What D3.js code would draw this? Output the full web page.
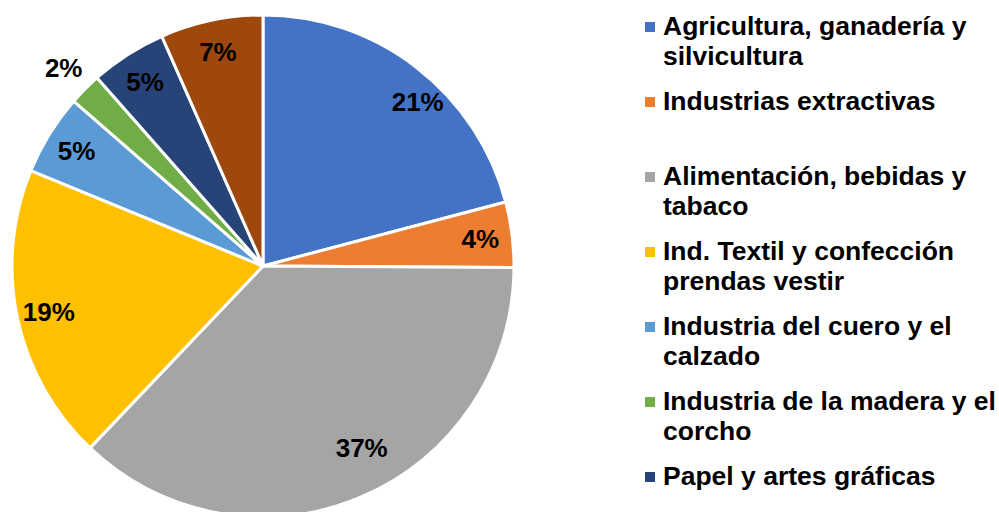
<!DOCTYPE html>
<html>
<head>
<meta charset="utf-8">
<script src="https://cdn.jsdelivr.net/npm/d3@7"></script>
<style>
  body { margin: 0; background: #fff; }
  svg text { font-family: "Liberation Sans", Arial, sans-serif; font-weight: bold; }
</style>
</head>
<body>
<div class="holderPie"></div>
<script>
// sectors, clockwise from 12 o'clock
var sectors = [
  'Agricultura, ganadería y silvicultura',
  'Industrias extractivas',
  'Alimentación, bebidas y tabaco',
  'Ind. Textil y confección prendas vestir',
  'Industria del cuero y el calzado',
  'Industria de la madera y el corcho',
  'Papel y artes gráficas',
  'Otras industrias'
]
var shares = [20.9, 4.2, 37.0, 19.1, 5.2, 2.1, 4.9, 6.6]
var labels = ['21%', '4%', '37%', '19%', '5%', '2%', '5%', '7%']
// legend text split into lines as in the original
var legendLines = [
  ['Agricultura, ganadería y', 'silvicultura'],
  ['Industrias extractivas'],
  ['Alimentación, bebidas y', 'tabaco'],
  ['Ind. Textil y confección', 'prendas vestir'],
  ['Industria del cuero y el', 'calzado'],
  ['Industria de la madera y el', 'corcho'],
  ['Papel y artes gráficas'],
  ['Otras industrias']
]
var colors = ['#4472C4', '#ED7D31', '#A5A5A5', '#FFC000', '#5B9BD5', '#70AD47', '#264478', '#9E480E']

var width = 999,
    height = 512,
    cx = 263,
    cy = 266,
    radius = 251,
    legendX = 645,
    legendY = 35,
    legendStep = 75

// excel "best fit" pushed two labels off the slice middle
var labelNudge = { 0: [21, 9], 2: [13, -20] }

var chart = d3.select('.holderPie')
  .append('svg')
  .attr('width', width)
  .attr('height', height)

var color = d3.scaleOrdinal()
  .domain(sectors)
  .range(colors)

var pie = d3.pie()
  .sort(null)
  .value(function(d, i) { return shares[i] })

var arcs = pie(sectors)

var arc = d3.arc()
  .innerRadius(0)
  .outerRadius(radius)

var labelArc = d3.arc()
  .innerRadius(219)
  .outerRadius(219)

var outerLabelArc = d3.arc()
  .innerRadius(281)
  .outerRadius(281)

var g = chart.append('g')
  .attr('transform', 'translate(' + cx + ',' + cy + ')')

g.selectAll('.slice')
  .data(arcs)
  .enter()
  .append('path')
  .attr('class', 'slice')
  .attr('d', arc)
  .attr('fill', function(d) { return color(d.data) })
  .attr('stroke', '#fff')
  .attr('stroke-width', 3)
  .attr('stroke-linejoin', 'round')

g.selectAll('.lbl')
  .data(arcs)
  .enter()
  .append('text')
  .attr('class', 'lbl')
  .attr('transform', function(d, i) {
    // small slices get their label outside the pie
    var a = (d.endAngle - d.startAngle) < 0.2 ? outerLabelArc : labelArc
    var p = a.centroid(d)
    var n = labelNudge[i] || [0, 0]
    return 'translate(' + (p[0] + n[0]) + ',' + (p[1] + n[1]) + ')'
  })
  .attr('text-anchor', 'middle')
  .attr('dy', '0.35em')
  .style('font-size', '26px')
  .attr('fill', '#000')
  .text(function(d, i) { return labels[i] })

// legend, only the entries that fit in the frame (last one falls below it)
var shown = sectors.filter(function(d, i) {
  return legendY + i * legendStep < height
})

var legend = chart.append('g')
  .attr('id', 'legend')
  .attr('transform', 'translate(' + legendX + ',' + legendY + ')')

var item = legend.selectAll('.item')
  .data(shown)
  .enter()
  .append('g')
  .attr('class', 'item')
  .attr('transform', function(d, i) { return 'translate(0,' + (i * legendStep) + ')' })

item.append('rect')
  .attr('x', 0)
  .attr('y', -13)
  .attr('width', 10)
  .attr('height', 10)
  .attr('fill', function(d) { return color(d) })

item.append('text')
  .style('font-size', '26.5px')
  .attr('fill', '#000')
  .selectAll('tspan')
  .data(function(d, i) { return legendLines[i] })
  .enter()
  .append('tspan')
  .attr('x', 18)
  .attr('y', function(d, j) { return j * 30 })
  .text(function(d) { return d })
</script>
</body>
</html>
